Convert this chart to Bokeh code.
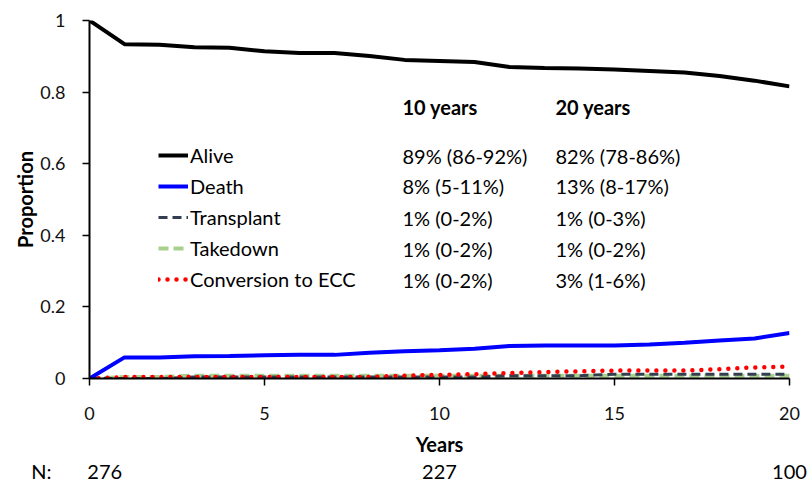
from bokeh.plotting import figure
from bokeh.models import (Legend, LegendItem, Label, FixedTicker, CustomJSTickFormatter,
                          Range1d, LinearAxis)
from bokeh.embed import file_html
from bokeh.resources import INLINE

# ---- data ----
years = list(range(21))
alive = [1.0, 0.934, 0.932, 0.925, 0.924, 0.914, 0.909, 0.909, 0.901, 0.890, 0.887,
         0.884, 0.870, 0.867, 0.866, 0.863, 0.859, 0.855, 0.845, 0.832, 0.816]
death = [0.0, 0.059, 0.059, 0.062, 0.063, 0.065, 0.066, 0.066, 0.072, 0.076, 0.079,
         0.083, 0.091, 0.092, 0.092, 0.092, 0.095, 0.100, 0.106, 0.112, 0.127]
transplant = [0.0, 0.0, 0.0, 0.004, 0.004, 0.004, 0.004, 0.004, 0.004, 0.004, 0.004,
              0.004, 0.008, 0.008, 0.008, 0.012, 0.012, 0.012, 0.012, 0.012, 0.012]
takedown = [0.0, 0.004, 0.004, 0.008, 0.008, 0.008, 0.008, 0.008, 0.008, 0.008, 0.008,
             0.008, 0.008, 0.008, 0.008, 0.008, 0.008, 0.008, 0.008, 0.008, 0.008]
conversion = [0.0, 0.004, 0.004, 0.004, 0.004, 0.004, 0.004, 0.004, 0.004, 0.008, 0.010,
              0.012, 0.015, 0.018, 0.020, 0.022, 0.022, 0.022, 0.026, 0.031, 0.033]

series_names = ["Alive", "Death", "Transplant", "Takedown", "Conversion to ECC"]
table_headers = ["10 years", "20 years"]
table_10y = ["89% (86-92%)", "8% (5-11%)", "1% (0-2%)", "1% (0-2%)", "1% (0-2%)"]
table_20y = ["82% (78-86%)", "13% (8-17%)", "1% (0-3%)", "1% (0-2%)", "3% (1-6%)"]

n_years = [0, 10, 20]
n_at_risk = [276, 227, 100]
n_prefix = "N:"

y_ticks = [0, 0.2, 0.4, 0.6, 0.8, 1]
x_ticks = [0, 5, 10, 15, 20]

FONT = "Lato"
FS = "20px"
NBSP = "\u00a0"

p = figure(frame_width=700, frame_height=358,
           x_range=Range1d(0, 20), y_range=Range1d(0, 1),
           output_backend="svg", toolbar_location=None,
           min_border_left=89, min_border_right=20,
           min_border_top=20, min_border_bottom=5)
p.outline_line_color = None
p.grid.visible = False

# axes
for ax in (p.xaxis[0], p.yaxis[0]):
    ax.axis_line_color = "black"
    ax.axis_line_width = 2
    ax.major_tick_line_color = "black"
    ax.major_tick_line_width = 1.5
    ax.major_tick_in = 0
    ax.major_tick_out = 7
    ax.minor_tick_line_color = None
    ax.major_label_text_font = FONT
    ax.major_label_text_font_size = "18px"
    ax.major_label_text_color = "#111111"
    ax.axis_label_text_font = FONT
    ax.axis_label_text_font_size = "20px"
    ax.axis_label_text_font_style = "bold"
    ax.axis_label_text_color = "black"

p.xaxis.ticker = FixedTicker(ticks=x_ticks)
p.yaxis.ticker = FixedTicker(ticks=y_ticks)
p.yaxis.formatter = CustomJSTickFormatter(code="return String(Math.round(tick*10)/10);")
p.xaxis.axis_label = "Years"
p.yaxis.axis_label = "Proportion"
p.xaxis.major_label_standoff = 21
p.xaxis.axis_label_standoff = 9
p.yaxis.major_label_standoff = 17
p.yaxis.axis_label_standoff = 0

# numbers-at-risk row as an extra, line-less axis under the x axis
n_labels = {}
for i, (yr, n) in enumerate(zip(n_years, n_at_risk)):
    txt = str(n)
    if i == 0:
        txt = n_prefix + NBSP * 7 + txt + NBSP * 5
    n_labels[yr] = txt
n_axis = LinearAxis(ticker=FixedTicker(ticks=n_years), major_label_overrides=n_labels,
                    axis_line_color=None, major_tick_line_color=None,
                    minor_tick_line_color=None, major_tick_in=0, major_tick_out=0,
                    major_label_standoff=0,
                    major_label_text_font=FONT, major_label_text_font_size=FS,
                    major_label_text_color="black")
p.add_layout(n_axis, "below")

# lines
r_take = p.line(years, takedown, line_color="#A9D18E", line_width=4, line_dash="10 5")
r_trans = p.line(years, transplant, line_color="#333F50", line_width=3, line_dash="9 5")
r_conv = p.line(years, conversion, line_color="#FF0000", line_width=4.5, line_dash="0 9", line_cap="round")
r_death = p.line(years, death, line_color="#0000FF", line_width=4)
r_alive = p.line(years, alive, line_color="black", line_width=4)

renderers = [r_alive, r_death, r_trans, r_take, r_conv]
legend = Legend(items=[LegendItem(label=n, renderers=[r]) for n, r in zip(series_names, renderers)],
                location=(69, 87), orientation="vertical",
                glyph_width=30, glyph_height=24, label_height=24, label_standoff=2,
                spacing=7, padding=0, margin=0,
                border_line_color=None, background_fill_alpha=0,
                label_text_font=FONT, label_text_font_size=FS, label_text_color="black")
p.add_layout(legend, "center")

# table headers and values (screen units relative to frame)
col_x = [313, 466]
header_y = 272
row_y = [223, 193, 161, 130, 99]
for cx, h in zip(col_x, table_headers):
    p.add_layout(Label(x=cx, y=header_y, x_units="screen", y_units="screen", text=h,
                       text_font=FONT, text_font_size=FS, text_font_style="bold",
                       text_baseline="middle", text_color="black"))
for cx, col in zip(col_x, [table_10y, table_20y]):
    for ry, t in zip(row_y, col):
        p.add_layout(Label(x=cx, y=ry, x_units="screen", y_units="screen", text=t,
                           text_font=FONT, text_font_size=FS,
                           text_baseline="middle", text_color="black"))

open("out.html", "w").write(file_html(p, INLINE))
